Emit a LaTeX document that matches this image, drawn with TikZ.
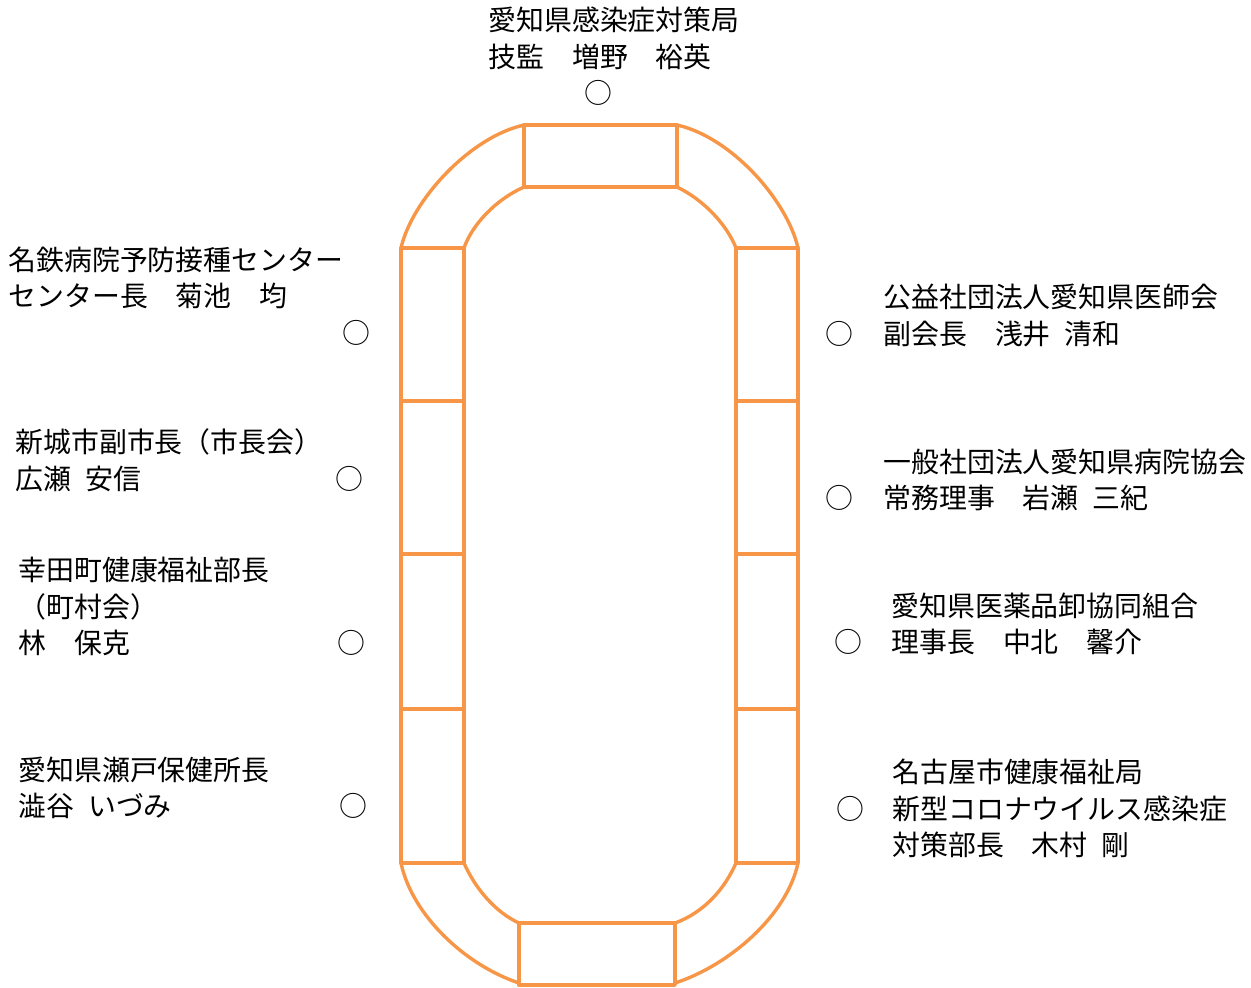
\documentclass[tikz,border=0pt]{standalone}
\usepackage{fontspec}
\newfontfamily\jpfont{Noto Sans CJK JP}
\definecolor{seatorange}{RGB}{247,150,70}

\begin{document}
\begin{tikzpicture}[x=0.5pt,y=0.5pt,yscale=-1,xscale=1,
		seat/.style={draw=seatorange,line width=1.7pt,line join=round},
		member/.style={anchor=west,align=left,inner sep=0pt,font=\jpfont\fontsize{13.95pt}{18.25pt}\selectfont},
		maru/.style={inner sep=0pt,font=\jpfont\fontsize{13.95pt}{18.25pt}\selectfont}]
	\useasboundingbox (0,0) rectangle (1251,987);
	
	%Shape: side seats
	\foreach \ya/\yb in {248/401,401/554,554/709,709/863}{
		\draw [seat] (401,\ya) rectangle (464,\yb) ;
		\draw [seat] (736,\ya) rectangle (798,\yb) ;
	}
	%Shape: top and bottom seats
	\draw [seat] (524,125) rectangle (677,187) ;
	\draw [seat] (519,923) rectangle (675,985) ;
	%Curve Lines: top corners
	\draw [seat] (401,248) .. controls (412,200) and (470,137) .. (524,125) ;
	\draw [seat] (464,248) .. controls (472,225) and (495,200) .. (524,187) ;
	\draw [seat] (798,248) .. controls (787,200) and (731,137) .. (677,125) ;
	\draw [seat] (736,248) .. controls (727,225) and (704,200) .. (677,187) ;
	%Curve Lines: bottom corners
	\draw [seat] (401,863) .. controls (412,915) and (465,965) .. (519,983) ;
	\draw [seat] (464,863) .. controls (475,888) and (495,912) .. (519,923) ;
	\draw [seat] (798,863) .. controls (787,915) and (730,965) .. (675,983) ;
	\draw [seat] (736,863) .. controls (725,888) and (705,912) .. (675,923) ;
	
	% Text Node
	\node [member] (kansen) at (488,38.5) {愛知県感染症対策局\\技監　増野　裕英};
	\node [maru] (kansenMaru) at (598,93) {○};
	% Text Node
	\node [member] (meitetsu) at (8,278) {名鉄病院予防接種センター\\センター長　菊池　均};
	\node [maru] (meitetsuMaru) at (356,333) {○};
	% Text Node
	\node [member] (shinshiro) at (15,460) {新城市副市長（市長会）\\広瀬\enspace 安信};
	\node [maru] (shinshiroMaru) at (349,479) {○};
	% Text Node
	\node [member] (kota) at (18,606.5) {幸田町健康福祉部長\\（町村会）\\林　保克};
	\node [maru] (kotaMaru) at (351,643) {○};
	% Text Node
	\node [member] (seto) at (18,788) {愛知県瀬戸保健所長\\澁谷\enspace いづみ};
	\node [maru] (setoMaru) at (353,806) {○};
	% Text Node
	\node [member] (ishikai) at (883,315.5) {公益社団法人愛知県医師会\\副会長　浅井\enspace 清和};
	\node [maru] (ishikaiMaru) at (839,334) {○};
	% Text Node
	\node [member] (byoin) at (883,480) {一般社団法人愛知県病院協会\\常務理事　岩瀬\enspace 三紀};
	\node [maru] (byoinMaru) at (839,498) {○};
	% Text Node
	\node [member] (oroshi) at (891,624) {愛知県医薬品卸協同組合\\理事長　中北　馨介};
	\node [maru] (oroshiMaru) at (848,642) {○};
	% Text Node
	\node [member] (nagoya) at (892,808.5) {名古屋市健康福祉局\\新型コロナウイルス感染症\\対策部長　木村\enspace 剛};
	\node [maru] (nagoyaMaru) at (850,809) {○};
	
\end{tikzpicture}
\end{document}
